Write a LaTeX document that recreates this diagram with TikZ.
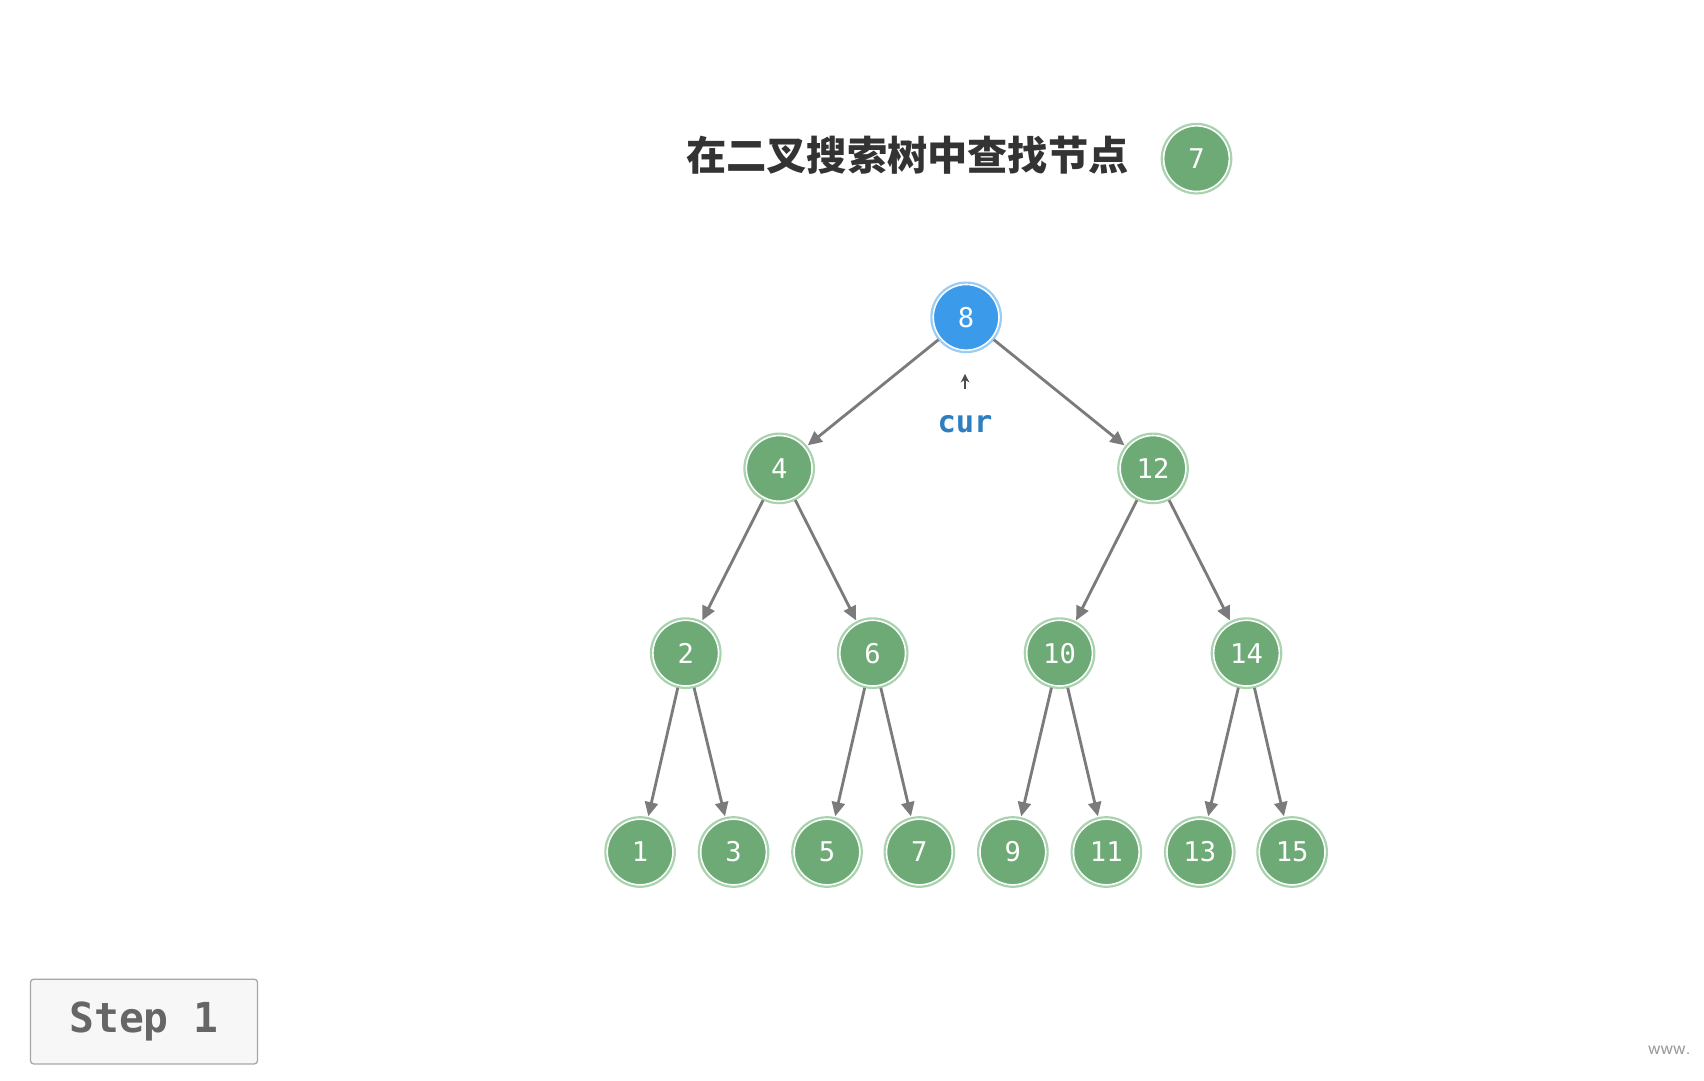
\documentclass[tikz,border=0pt]{standalone}
\usepackage{fontspec}
\newfontfamily\cjk{Noto Sans CJK SC}
\setmonofont{DejaVu Sans Mono}
\usetikzlibrary{arrows.meta}
\definecolor{gfill}{HTML}{6DAA76}
\definecolor{gring}{HTML}{A9D3AE}
\definecolor{bfill}{HTML}{3B9BEA}
\definecolor{bring}{HTML}{9ACDF5}
\definecolor{edge}{HTML}{7B7B7B}
\definecolor{curblue}{HTML}{2F7EC0}
\begin{document}
\begin{tikzpicture}[x=1pt,y=-1pt,
  tn/.style={circle,minimum size=64pt,inner sep=0pt,fill=gfill,draw=white,line width=1.5pt,
    double=gring,double distance=2pt,text=white,font=\ttfamily\fontsize{25}{25}\selectfont},
  bn/.style={tn,fill=bfill,double=bring},
  ed/.style={draw=edge,line width=2.6pt,-{Triangle[length=13pt,width=12pt]},shorten >=1pt}]
\useasboundingbox (0,0) rectangle (1568,994);
\node[font=\cjk\bfseries\fontsize{37}{37}\selectfont,text=black!80] (title) at (835,143) {在二叉搜索树中查找节点};
\node[tn] (t7) at (1101,146) {7};
\node[bn] (n8) at (889,292) {8};
\node[tn] (n4) at (717,431) {4};
\node[tn] (n12) at (1061,431) {12};
\node[tn] (n2) at (631,601) {2};
\node[tn] (n6) at (803,601) {6};
\node[tn] (n10) at (975,601) {10};
\node[tn] (n14) at (1147,601) {14};
\foreach \v/\x in {1/589,3/675,5/761,7/846,9/932,11/1018,13/1104,15/1189}
  \node[tn] (l\v) at (\x,784) {\v};
\foreach \a/\b in {n8/n4,n8/n12,n4/n2,n4/n6,n12/n10,n12/n14,n2/l1,n2/l3,n6/l5,n6/l7,n10/l9,n10/l11,n14/l13,n14/l15}
  \draw[ed] (\a) -- (\b);
\node[font=\ttfamily\bfseries\fontsize{28}{28}\selectfont,text=curblue] (cur) at (888,390) {cur};
\coordinate (cb) at (888,358);
\coordinate (ct) at (888,344);
\draw[draw=black!70,line width=1pt,-{Stealth[length=8pt,width=8pt]}] (cb) -- (ct);
\node[draw=black!35,fill=black!3,rounded corners=3pt,line width=1.2pt,minimum width=209pt,minimum height=78pt,
  font=\ttfamily\bfseries\fontsize{38}{38}\selectfont,text=black!60] (step) at (132.5,940) {Step 1};
\node[font=\sffamily\fontsize{18}{18}\selectfont,text=black!40,anchor=west] (www) at (1513,966) {www.};
\end{tikzpicture}
\end{document}
